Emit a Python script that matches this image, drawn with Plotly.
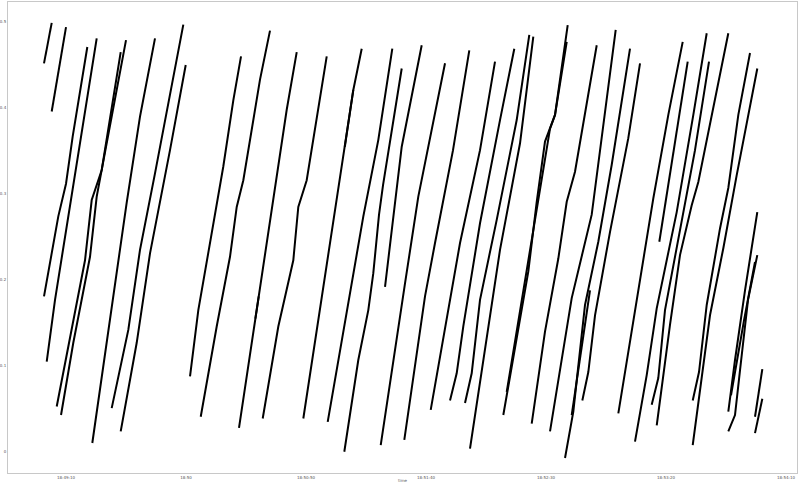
import plotly.graph_objects as go
import pandas as pd

# base time of the record; offsets below are seconds after 18:49:00
BASE = pd.Timestamp("2021-01-01 18:49:00")

# each run: seconds after BASE and the measured value
segment_seconds = [
    [0.83, 4.04],
    [4.04, 10.0],
    [0.83, 6.79, 10.0, 12.79, 18.88],
    [1.96, 5.42, 22.79],
    [6.13, 11.67, 17.92, 20.71, 24.88, 32.79],
    [7.92, 13.04, 20.0, 22.79, 35.0],
    [20.96, 31.79, 35.29, 40.83, 47.08],
    [29.04, 35.96, 40.83, 47.08, 58.88],
    [32.79, 39.46, 45.0, 53.33, 59.88],
    [61.67, 65.13, 75.54, 79.71, 82.92],
    [66.13, 72.79, 78.33, 81.13, 83.88, 90.83, 95.0],
    [82.08, 89.46, 95.71, 101.96, 106.13],
    [88.9, 90.3],
    [91.96, 98.46, 104.71, 106.79, 110.29, 118.63],
    [108.88, 114.46, 121.38, 129.71, 133.21],
    [126.17, 129.71],
    [119.04, 126.96, 133.88, 140.13, 145.96],
    [125.96, 131.79, 135.96, 138.04, 140.42, 142.08, 149.88],
    [142.92, 149.88, 158.21],
    [141.13, 149.88, 151.25, 156.79, 163.75, 167.92],
    [150.96, 155.42, 159.58, 163.75, 171.25, 178.04],
    [161.96, 168.63, 174.17, 182.5, 188.75],
    [170.0, 172.79, 175.54, 182.5, 190.83, 196.79],
    [176.25, 179.04, 182.5, 189.46, 197.79, 203.04],
    [178.33, 183.88, 190.83, 199.17, 204.71],
    [192.21, 197.08, 202.63, 206.13, 209.58, 213.75, 219.04],
    [193.63, 207.5, 211.67, 213.75, 218.63],
    [204.04, 209.58, 215.13, 218.63, 222.08, 226.25, 231.13],
    [211.67, 220.71, 229.04, 234.58, 239.04],
    [217.92, 221.38, 226.25, 231.79, 237.38, 242.21, 245.0],
    [220.71, 228.33],
    [225.13, 227.63, 230.42, 236.67, 244.29, 249.17],
    [240.13, 247.79, 254.71, 260.96, 266.96],
    [257.21, 269.04],
    [247.08, 251.96, 256.13, 264.46, 271.38, 276.96],
    [254.04, 256.79, 259.58, 265.83, 272.08, 277.92],
    [256.13, 261.67, 265.83, 270.71, 273.46, 277.08, 285.96],
    [271.13, 273.75, 276.96, 282.5, 285.96, 290.13, 295.0],
    [271.13, 278.33, 283.88, 289.46, 298.04],
    [285.96, 288.75, 292.92, 298.04],
    [285.96, 288.75, 290.83, 294.17, 298.04],
    [287.08, 292.5, 297.08],
    [297.08, 300.13],
    [297.08, 300.13],
]

segment_values = [
    [0.452, 0.499],
    [0.396, 0.494],
    [0.181, 0.274, 0.312, 0.367, 0.471],
    [0.105, 0.177, 0.481],
    [0.053, 0.134, 0.223, 0.293, 0.328, 0.465],
    [0.043, 0.127, 0.227, 0.297, 0.479],
    [0.0105, 0.220, 0.290, 0.390, 0.481],
    [0.051, 0.142, 0.235, 0.324, 0.497],
    [0.024, 0.127, 0.231, 0.351, 0.450],
    [0.088, 0.165, 0.332, 0.409, 0.460],
    [0.041, 0.146, 0.227, 0.285, 0.316, 0.433, 0.490],
    [0.028, 0.165, 0.281, 0.398, 0.465],
    [0.155, 0.181],
    [0.039, 0.146, 0.223, 0.285, 0.316, 0.460],
    [0.039, 0.142, 0.266, 0.421, 0.469],
    [0.355, 0.421],
    [0.035, 0.165, 0.274, 0.363, 0.469],
    [0.0003, 0.107, 0.165, 0.208, 0.276, 0.310, 0.446],
    [0.192, 0.355, 0.473],
    [0.008, 0.173, 0.196, 0.297, 0.394, 0.452],
    [0.014, 0.103, 0.181, 0.243, 0.351, 0.467],
    [0.049, 0.153, 0.243, 0.351, 0.454],
    [0.060, 0.0915, 0.146, 0.266, 0.386, 0.469],
    [0.057, 0.0915, 0.177, 0.270, 0.386, 0.485],
    [0.004, 0.107, 0.235, 0.359, 0.483],
    [0.043, 0.121, 0.210, 0.291, 0.361, 0.392, 0.4965],
    [0.070, 0.307, 0.376, 0.392, 0.477],
    [0.033, 0.140, 0.225, 0.291, 0.326, 0.392, 0.473],
    [0.024, 0.179, 0.276, 0.392, 0.491],
    [-0.007, 0.047, 0.171, 0.2445, 0.334, 0.419, 0.469],
    [0.043, 0.188],
    [0.060, 0.093, 0.159, 0.256, 0.365, 0.452],
    [0.045, 0.177, 0.295, 0.392, 0.477],
    [0.2445, 0.454],
    [0.012, 0.0895, 0.167, 0.279, 0.392, 0.487],
    [0.055, 0.086, 0.165, 0.258, 0.351, 0.454],
    [0.031, 0.148, 0.229, 0.287, 0.314, 0.363, 0.487],
    [0.060, 0.093, 0.171, 0.260, 0.307, 0.392, 0.464],
    [0.008, 0.159, 0.237, 0.322, 0.446],
    [0.047, 0.107, 0.188, 0.279],
    [0.024, 0.043, 0.095, 0.177, 0.229],
    [0.066, 0.153, 0.221],
    [0.041, 0.0965],
    [0.022, 0.062],
]

x_tick_seconds = [10, 60, 110, 160, 210, 260, 310]
x_tick_labels = ["18:49:10", "18:50", "18:50:50", "18:51:40", "18:52:30", "18:53:20", "18:54:10"]
y_tick_values = [0, 0.1, 0.2, 0.3, 0.4, 0.5]
y_tick_labels = ["0", "0.1", "0.2", "0.3", "0.4", "0.5"]


def to_time(secs):
    return [BASE + pd.Timedelta(seconds=s) for s in secs]


fig = go.Figure()
for secs, vals in zip(segment_seconds, segment_values):
    fig.add_trace(go.Scatter(
        x=to_time(secs), y=vals, mode="lines",
        line=dict(color="black", width=2),
        showlegend=False, hoverinfo="skip",
    ))

axis_common = dict(
    showgrid=False, zeroline=False, showline=True, mirror=True,
    linecolor="#c8c8c8", linewidth=1, ticks="",
    tickfont=dict(family="DejaVu Sans", size=4, color="#555"),
    automargin=False,
)

fig.update_layout(
    width=800, height=484,
    margin=dict(l=8, r=3, t=2, b=11),
    paper_bgcolor="white", plot_bgcolor="white",
    xaxis=dict(
        type="date",
        range=[BASE + pd.Timedelta(seconds=-14.17), BASE + pd.Timedelta(seconds=314.58)],
        tickvals=to_time(x_tick_seconds), ticktext=x_tick_labels,
        title=dict(text="time", font=dict(family="DejaVu Sans", size=4, color="#555"), standoff=0),
        **axis_common,
    ),
    yaxis=dict(
        range=[-0.0244, 0.5233],
        tickvals=y_tick_values, ticktext=y_tick_labels,
        **axis_common,
    ),
)

fig.write_html("out.html")
